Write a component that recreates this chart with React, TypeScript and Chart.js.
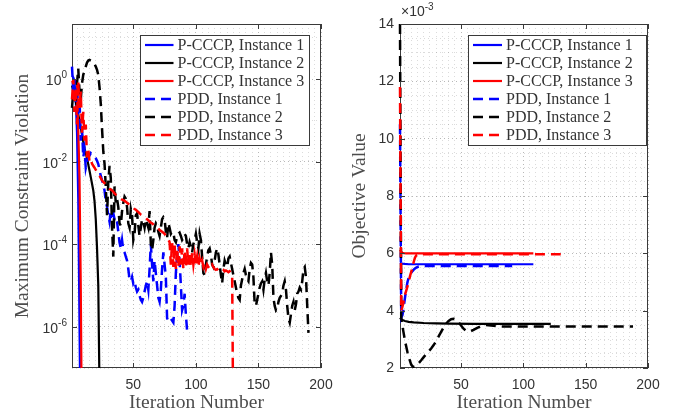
import React, { useEffect, useRef } from "react";
import { Chart, registerables } from "chart.js";
Chart.register(...registerables);

// ---------------- data ----------------
const seriesNames = [
  "P-CCCP, Instance 1",
  "P-CCCP, Instance 2",
  "P-CCCP, Instance 3",
  "PDD, Instance 1",
  "PDD, Instance 2",
  "PDD, Instance 3",
];
const seriesColors = ["#0000ff", "#000000", "#ff0000", "#0000ff", "#000000", "#ff0000"];
const seriesDashed = [false, false, false, true, true, true];

// Left panel: maximum constraint violation, one value per iteration (iteration 1, 2, ...)
const violPcccp1 = [1.2, 1.1, 0.9, 0.3, 0.05, 1.2e-3, 1e-6, 1e-9];
const violPcccp2 = [0.7, 0.5, 0.38, 0.28, 0.2, 0.14, 0.095, 0.065, 0.045, 0.03, 0.021, 0.016, 0.012, 0.0085, 0.006, 0.0042, 0.0029, 0.002, 0.0011, 4e-4, 8e-5, 1e-5, 3e-8];
const violPcccp3 = [0.9, 0.8, 0.85, 0.9, 0.8, 0.06, 4e-3, 1e-5, 1e-9];
const violPdd1 = [
  2.0, 0.5, 1.0, 0.25, 0.63, 0.126, 0.32, 0.032, 0.063, 0.0126,
  0.02, 0.0071, 0.01, 0.0126, 0.014, 0.016, 0.015, 0.014, 0.013, 0.012,
  0.0105, 0.0087, 0.0063, 0.0045, 0.0035, 0.0028, 0.002, 0.0011, 7.9e-4, 5e-4,
  3.5e-4, 6.3e-4, 5e-4, 5.6e-4, 4e-4, 4.5e-4, 3.5e-4, 2e-4, 1.1e-4, 7.9e-5,
  1.26e-4, 7.1e-5, 6.3e-5, 5e-5, 4e-5, 2.5e-5, 1.4e-5, 1.26e-5, 1.6e-5, 1.1e-5,
  1.26e-5, 8.9e-6, 7.1e-6, 7.9e-6, 5.6e-6, 4.5e-6, 4e-6, 5e-6, 7.1e-6, 1e-5,
  1.26e-5, 7.9e-6, 2.5e-5, 1e-4, 3.2e-5, 1.26e-5, 4e-5, 2e-5, 1e-5, 5e-6,
  4e-6, 7.9e-6, 2.5e-5, 6.3e-5, 3.2e-5, 1.6e-5, 1.6e-6, 1.4e-6, 1.4e-6, 1.6e-6,
  1.4e-6, 1.26e-6, 3.2e-6, 2e-5, 5e-5, 1e-4, 4e-5, 1e-5, 2.5e-6, 3.2e-6,
  6.3e-6, 2e-6, 7.9e-7,
];
const violPdd2 = [
  0.2, 0.5, 0.16, 0.32, 0.79, 1.78, 0.5, 0.32, 0.79, 1.26,
  1.58, 2.0, 2.5, 2.8, 2.9, 2.8, 2.7, 2.5, 2.3, 2.0,
  1.66, 1.26, 0.63, 0.25, 0.063, 0.0178, 0.0089, 0.0025, 5e-4, 0.0032,
  0.0079, 0.004, 2.5e-4, 5e-5, 0.0025, 0.001, 0.00126, 7.9e-4, 3.2e-4, 2.8e-4,
  6.3e-4, 1e-3, 1.41e-3, 1.26e-3, 7.9e-4, 3.2e-4, 2.5e-4, 7.1e-4, 5e-4, 1.26e-4,
  1.78e-4, 5e-4, 5.6e-4, 2.8e-4, 1.58e-4, 2.5e-4, 4e-4, 3.5e-4, 2.5e-4, 4e-4,
  3.2e-4, 2.5e-4, 6.3e-4, 1e-4, 7.1e-5, 1.26e-4, 2.5e-4, 3.2e-4, 2.8e-4, 2e-4,
  1.58e-4, 2.5e-4, 4e-4, 4.5e-4, 4e-4, 2e-4, 1.41e-4, 3.2e-4, 2.5e-4, 1.78e-4,
  2e-4, 1.9e-4, 1.26e-4, 1.12e-4, 1.58e-4, 1.78e-4, 1.9e-4, 1.58e-4, 1.26e-4, 1.41e-4,
  1.78e-4, 1.58e-4, 1e-4, 7.9e-5, 1.12e-4, 8.9e-5, 6.3e-5, 1e-4, 1.26e-4, 1.78e-4,
  1.12e-4, 7.9e-5, 1.78e-4, 1.26e-4, 5e-5, 2e-5, 1.78e-5, 3.2e-5, 5e-5, 7.1e-5,
  7.9e-5, 5.6e-5, 3.2e-5, 2.8e-5, 4e-5, 6.3e-5, 7.9e-5, 5.6e-5, 3.2e-5, 1.78e-5,
  1.12e-5, 2.5e-5, 4e-5, 3.2e-5, 2.8e-5, 4.5e-5, 5e-5, 3.5e-5, 2.5e-5, 1.78e-5,
  1.26e-5, 8.9e-6, 6.3e-6, 5e-6, 4.5e-6, 1e-5, 1.41e-5, 2e-5, 2.5e-5, 1.78e-5,
  1.41e-5, 1.26e-5, 2.5e-5, 3.5e-5, 3.2e-5, 1.58e-5, 3.5e-6, 3.2e-6, 4.5e-6, 6.3e-6,
  8.9e-6, 1.12e-5, 1.26e-5, 7.9e-6, 1.41e-5, 2e-5, 1.26e-5, 1e-5, 2e-5, 6.3e-5,
  3.2e-5, 5e-6, 3.2e-6, 2.5e-6, 2.8e-6, 4e-6, 5e-6, 5.6e-6, 6.3e-6, 1e-5,
  1.26e-5, 7.9e-6, 3.2e-6, 1.58e-6, 1.26e-6, 2e-6, 3.2e-6, 4e-6, 2.5e-6, 3.5e-6,
  6.3e-6, 7.1e-6, 8.9e-6, 7.9e-6, 1.26e-5, 2.5e-5, 2.8e-5, 1.58e-5, 3.2e-6, 7.1e-7,
];
const violPdd3 = [
  0.32, 1.0, 0.16, 0.63, 0.079, 0.89, 0.2, 0.5, 0.05, 0.16,
  0.032, 0.079, 0.0126, 0.02, 0.01, 0.0112, 0.0089, 0.0079, 0.0071, 0.0063,
  0.0056, 0.005, 0.0045, 0.004, 0.0035, 0.0032, 0.003, 0.0028, 0.0026, 0.0024,
  0.0022, 0.0021, 0.002, 0.00186, 0.0017, 0.00158, 0.0015, 0.00141, 0.00135, 0.00126,
  0.0012, 0.00117, 0.00112, 0.00107, 0.001, 9.5e-4, 8.9e-4, 8.3e-4, 7.9e-4, 7.6e-4,
  7.1e-4, 6.8e-4, 6.3e-4, 6e-4, 5.6e-4, 5.2e-4, 5e-4, 4.8e-4, 4.5e-4, 4.3e-4,
  4e-4, 3.8e-4, 3.5e-4, 3.3e-4, 3.2e-4, 3e-4, 2.8e-4, 2.6e-4, 2.5e-4, 2.4e-4,
  2.2e-4, 2.1e-4, 2e-4, 1.9e-4, 1.78e-4, 1.58e-4, 1.41e-4, 1.26e-4, 1.12e-4, 3.2e-5,
  1.12e-4, 2.8e-5, 1e-4, 2.5e-5, 7.9e-5, 2.8e-5, 8.9e-5, 3.2e-5, 7.9e-5, 2.5e-5,
  7.1e-5, 2.8e-5, 7.9e-5, 3.2e-5, 6.3e-5, 2.8e-5, 6.3e-5, 3.2e-5, 5.6e-5, 3.2e-5,
  5e-5, 2.8e-5, 4.5e-5, 3.2e-5, 4e-5, 2.8e-5, 3.5e-5, 2.5e-5, 3.2e-5, 2.8e-5,
  2.5e-5, 2.8e-5, 3.2e-5, 2.8e-5, 2.5e-5, 2.4e-5, 2.5e-5, 2.3e-5, 2.2e-5, 2.4e-5,
  2.5e-5, 2.4e-5, 2.2e-5, 2.3e-5, 2.2e-5, 2.1e-5, 2.2e-5, 2e-5, 1.78e-5, 1e-9,
];

// Right panel: objective value (in units of 10^-3) at the listed iterations
const objIterPcccp1 = [1, 2, 3, 5, 8, 15, 30, 60, 90, 108];
const objPcccp1 = [5.68, 5.65, 5.64, 5.63, 5.62, 5.62, 5.62, 5.62, 5.62, 5.62];
const objIterPcccp2 = [1, 2, 3, 5, 8, 12, 20, 30, 40, 60, 90, 122];
const objPcccp2 = [3.75, 3.7, 3.67, 3.64, 3.61, 3.59, 3.57, 3.56, 3.55, 3.54, 3.54, 3.54];
const objIterPcccp3 = [1, 2, 3, 4, 6, 10, 20, 50, 80, 108];
const objPcccp3 = [6.12, 6.05, 6.02, 6.01, 6.0, 6.0, 6.0, 6.0, 6.0, 6.0];
const objIterPdd1 = [1, 2, 3, 4, 5, 6, 7, 8, 9, 10, 11, 12, 13, 14, 16, 20, 30, 50, 70, 91];
const objPdd1 = [10.5, 3.75, 3.85, 4.15, 4.45, 4.75, 5.0, 5.15, 5.25, 5.32, 5.38, 5.43, 5.47, 5.5, 5.54, 5.56, 5.56, 5.56, 5.56, 5.56];
const objIterPdd2 = [1, 2, 3, 4, 5, 6, 7, 8, 9, 10, 11, 12, 13, 14, 16, 18, 20, 22, 24, 26, 28, 30, 32, 34, 36, 38, 40, 42, 44, 46, 48, 50, 52, 54, 56, 58, 60, 63, 66, 70, 74, 78, 82, 90, 110, 140, 188];
const objPdd2 = [14.0, 3.75, 3.45, 3.2, 2.95, 2.75, 2.55, 2.38, 2.25, 2.12, 2.06, 2.04, 2.05, 2.08, 2.17, 2.27, 2.38, 2.48, 2.58, 2.68, 2.8, 2.94, 3.1, 3.26, 3.42, 3.55, 3.64, 3.7, 3.72, 3.69, 3.6, 3.48, 3.37, 3.3, 3.27, 3.29, 3.33, 3.4, 3.46, 3.5, 3.48, 3.46, 3.45, 3.45, 3.45, 3.45, 3.45];
const objIterPdd3 = [1, 2, 3, 4, 5, 6, 7, 8, 9, 10, 11, 12, 13, 14, 16, 20, 40, 60, 90, 130];
const objPdd3 = [11.8, 4.0, 4.15, 4.35, 4.55, 4.7, 4.85, 5.0, 5.2, 5.35, 5.5, 5.7, 5.85, 5.93, 5.97, 5.97, 5.97, 5.97, 5.97, 5.97];

// tick labels
const xTickLabels = [50, 100, 150, 200];
const violTickExponents = [0, -2, -4, -6];
const objTickLabels = [2, 4, 6, 8, 10, 12, 14];

// ---------------- styling ----------------
const SERIF = '"Liberation Serif", "Times New Roman", serif';
const SANS = '"Liberation Sans", Arial, Helvetica, sans-serif';
const TEXT = "#333333";
const AXIS = "#3a3a3a";
const TITLE = "#4d4d4d";
const LEGTEXT = "#333333";

function makeDatasets(values: number[][], iters?: number[][]) {
  return values.map((vals, i) => ({
    label: seriesNames[i],
    data: vals.map((y, k) => ({ x: iters ? iters[i][k] : k + 1, y })),
    borderColor: seriesColors[i],
    backgroundColor: seriesColors[i],
    borderWidth: seriesDashed[i] ? 2.5 : 2.2,
    borderDash: seriesDashed[i] ? [10, 6] : [],
    pointRadius: 0,
    fill: false,
    tension: 0,
    order: 10 - i,
    clip: { left: 2, top: 0, right: 0, bottom: 0 },
  }));
}

const xGridValues: number[] = [];
for (let v = 5; v <= 200; v += 5) xGridValues.push(v);
const logGridValues: number[] = [];
for (let e = -7; e <= 1; e++) logGridValues.push(Math.pow(10, e));
const objGridValues: number[] = [];
for (let v = 2; v <= 14; v += 0.5) objGridValues.push(v);

const gridColor = (major: boolean) => (major ? "rgba(0,0,0,0.28)" : "rgba(0,0,0,0.14)");

const framePlugin = {
  id: "frame",
  beforeDatasetsDraw(chart: any) {
    const { ctx, chartArea: a } = chart;
    ctx.save();
    ctx.setLineDash([]);
    ctx.strokeStyle = AXIS;
    ctx.lineWidth = 1;
    ctx.strokeRect(a.left + 0.5, a.top + 0.5, a.right - a.left - 1, a.bottom - a.top - 1);
    ctx.restore();
  },
  afterDatasetsDraw(chart: any, _a: any, opts: any) {
    const { ctx, chartArea: a } = chart;
    const xs = chart.scales.x;
    const ys = chart.scales.y;
    ctx.save();
    ctx.setLineDash([]);
    ctx.strokeStyle = AXIS;
    ctx.lineWidth = 1;
    // inward tick marks
    const TL = 5;
    ctx.beginPath();
    for (const v of opts.xMajor) {
      const px = Math.round(xs.getPixelForValue(v)) + 0.5;
      ctx.moveTo(px, a.bottom);
      ctx.lineTo(px, a.bottom - TL);
      ctx.moveTo(px, a.top);
      ctx.lineTo(px, a.top + TL);
    }
    for (const v of opts.yMajor) {
      const py = Math.round(ys.getPixelForValue(v)) + 0.5;
      ctx.moveTo(a.left, py);
      ctx.lineTo(a.left + TL, py);
      ctx.moveTo(a.right, py);
      ctx.lineTo(a.right - TL, py);
    }
    ctx.stroke();

    // log tick labels with superscripts
    if (opts.logExponents) {
      ctx.fillStyle = TEXT;
      for (const e of opts.logExponents) {
        const py = ys.getPixelForValue(Math.pow(10, e));
        const ex = e === 0 ? "0" : "-" + Math.abs(e);
        ctx.font = `10px ${SANS}`;
        const ew = ctx.measureText(ex).width;
        ctx.font = `14px ${SANS}`;
        const bw = ctx.measureText("10").width;
        const xr = a.left - 5;
        ctx.textBaseline = "alphabetic";
        ctx.textAlign = "left";
        ctx.fillText("10", xr - ew - bw, py + 6);
        ctx.font = `10px ${SANS}`;
        ctx.fillText(ex, xr - ew, py - 1);
      }
    }
    // multiplier
    if (opts.multiplier) {
      ctx.fillStyle = TEXT;
      ctx.textBaseline = "alphabetic";
      ctx.textAlign = "left";
      ctx.font = `14px ${SANS}`;
      const t = "\u00d710";
      ctx.fillText(t, a.left + 1, 16);
      const w = ctx.measureText(t).width;
      ctx.font = `10px ${SANS}`;
      ctx.fillText("-3", a.left + 1 + w, 10);
    }

    // legend
    const L = opts.legend;
    ctx.fillStyle = "#ffffff";
    ctx.fillRect(L.x, L.y, L.w, L.h);
    ctx.strokeStyle = AXIS;
    ctx.lineWidth = 1;
    ctx.strokeRect(L.x + 0.5, L.y + 0.5, L.w - 1, L.h - 1);
    chart.data.datasets.forEach((ds: any, i: number) => {
      const y = L.row0 + i * L.dy;
      ctx.strokeStyle = ds.borderColor;
      ctx.lineWidth = ds.borderWidth;
      ctx.setLineDash(ds.borderDash || []);
      ctx.beginPath();
      ctx.moveTo(L.x + L.l0, y);
      ctx.lineTo(L.x + L.l1, y);
      ctx.stroke();
      ctx.setLineDash([]);
      ctx.fillStyle = LEGTEXT;
      ctx.font = `16px ${SERIF}`;
      ctx.textBaseline = "middle";
      ctx.textAlign = "left";
      ctx.fillText(ds.label, L.x + L.tx, y + 1);
    });
    ctx.restore();
  },
};

function xScale() {
  return {
    type: "linear",
    min: 1,
    max: 200,
    afterBuildTicks: (s: any) => {
      s.ticks = xGridValues.map((v) => ({ value: v }));
    },
    afterFit: (s: any) => {
      s.height = 49;
    },
    ticks: {
      autoSkip: false,
      maxRotation: 0,
      padding: 9,
      color: TEXT,
      font: { family: SANS, size: 14 },
      callback: (v: number) => (xTickLabels.includes(v) ? String(v) : ""),
    },
    grid: {
      drawTicks: false,
      lineWidth: 1,
      color: (c: any) => gridColor(c.tick && c.tick.value % 50 === 0),
    },
    border: { display: false, dash: [1, 3] },
    title: {
      display: true,
      text: "Iteration Number",
      color: TITLE,
      font: { family: SERIF, size: 19.5 },
      padding: { top: 0, bottom: 2 },
    },
  };
}

function leftConfig(): any {
  return {
    type: "line",
    data: {
      datasets: makeDatasets([violPcccp1, violPcccp2, violPcccp3, violPdd1, violPdd2, violPdd3]),
    },
    options: {
      responsive: false,
      animation: false,
      layout: { padding: { top: 24, right: 21, left: 0, bottom: 0 } },
      plugins: {
        legend: { display: false },
        tooltip: { enabled: false },
        frame: {
          xMajor: xTickLabels,
          yMajor: violTickExponents.map((e) => Math.pow(10, e)),
          logExponents: violTickExponents,
          legend: { x: 140, y: 35, w: 170, h: 111, l0: 5, l1: 33.5, tx: 37.5, row0: 45, dy: 18 },
        },
      },
      scales: {
        x: xScale(),
        y: {
          type: "logarithmic",
          min: 1e-7,
          max: 21.5,
          afterBuildTicks: (s: any) => {
            s.ticks = logGridValues.map((v) => ({ value: v }));
          },
          afterFit: (s: any) => {
            s.width = 72;
          },
          ticks: { display: false },
          grid: {
            drawTicks: false,
            lineWidth: 1,
            color: (c: any) => {
              const e = c.tick ? Math.round(Math.log10(c.tick.value)) : 1;
              return gridColor(e % 2 === 0);
            },
          },
          border: { display: false, dash: [1, 3] },
          title: {
            display: true,
            text: "Maximum Constraint Violation",
            color: TITLE,
            font: { family: SERIF, size: 19.5 },
            padding: { top: 11, bottom: 0 },
          },
        },
      },
    },
    plugins: [framePlugin],
  };
}

function rightConfig(): any {
  return {
    type: "line",
    data: {
      datasets: makeDatasets(
        [objPcccp1, objPcccp2, objPcccp3, objPdd1, objPdd2, objPdd3],
        [objIterPcccp1, objIterPcccp2, objIterPcccp3, objIterPdd1, objIterPdd2, objIterPdd3]
      ),
    },
    options: {
      responsive: false,
      animation: false,
      layout: { padding: { top: 24, right: 37, left: 0, bottom: 0 } },
      plugins: {
        legend: { display: false },
        tooltip: { enabled: false },
        frame: {
          xMajor: xTickLabels,
          yMajor: objTickLabels,
          multiplier: true,
          legend: { x: 126, y: 35, w: 179, h: 111, l0: 5, l1: 34, tx: 38, row0: 45, dy: 18 },
        },
      },
      scales: {
        x: xScale(),
        y: {
          type: "linear",
          min: 2,
          max: 14,
          afterBuildTicks: (s: any) => {
            s.ticks = objGridValues.map((v) => ({ value: v }));
          },
          afterFit: (s: any) => {
            s.width = 58;
          },
          ticks: {
            autoSkip: false,
            padding: 6,
            color: TEXT,
            font: { family: SANS, size: 14 },
            callback: (v: number) => (objTickLabels.includes(v) ? String(v) : ""),
          },
          grid: {
            drawTicks: false,
            lineWidth: 1,
            color: (c: any) => gridColor(c.tick && c.tick.value % 2 === 0),
          },
          border: { display: false, dash: [1, 3] },
          title: {
            display: true,
            text: "Objective Value",
            color: TITLE,
            font: { family: SERIF, size: 19.5 },
            padding: { top: 6, bottom: 0 },
          },
        },
      },
    },
    plugins: [framePlugin],
  };
}

export default function App() {
  const leftRef = useRef<HTMLCanvasElement | null>(null);
  const rightRef = useRef<HTMLCanvasElement | null>(null);
  useEffect(() => {
    const c1 = new Chart(leftRef.current as HTMLCanvasElement, leftConfig());
    const c2 = new Chart(rightRef.current as HTMLCanvasElement, rightConfig());
    return () => {
      c1.destroy();
      c2.destroy();
    };
  }, []);
  return (
    <div style={{ position: "absolute", left: 0, top: 0, width: 685, height: 417, background: "#ffffff" }}>
      <canvas ref={leftRef} width={342} height={417} style={{ position: "absolute", left: 0, top: 0 }} />
      <canvas ref={rightRef} width={343} height={417} style={{ position: "absolute", left: 342, top: 0 }} />
    </div>
  );
}
